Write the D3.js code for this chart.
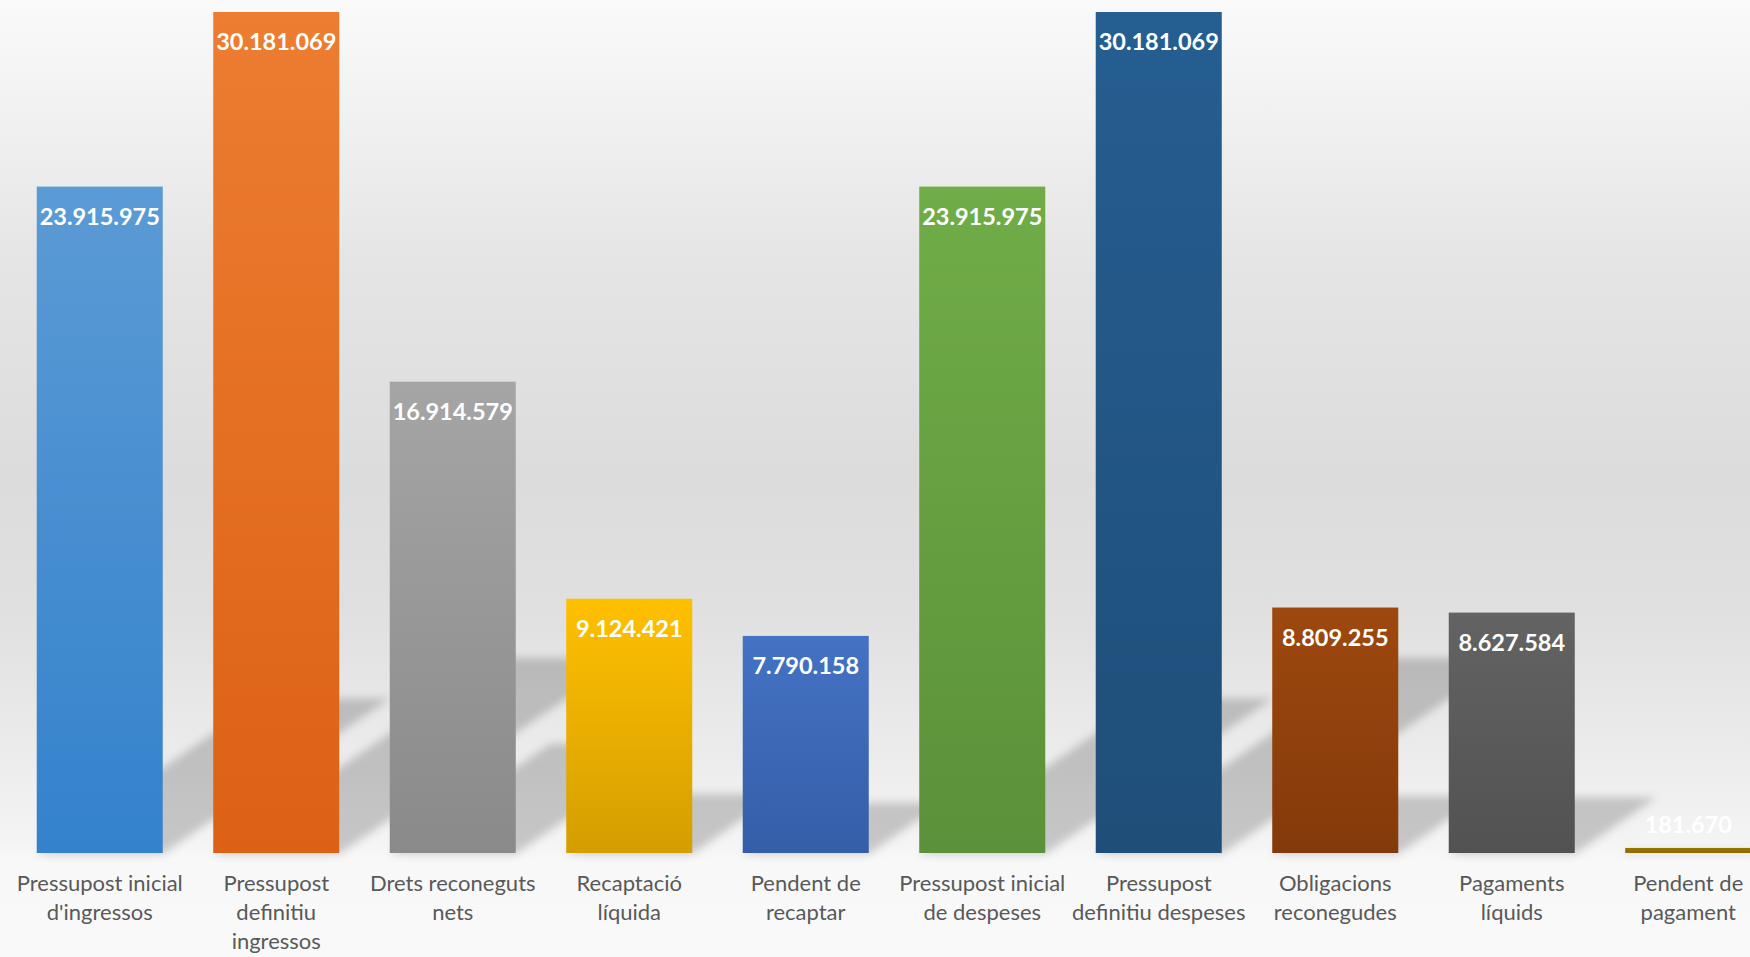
<!DOCTYPE html>
<html>
<head>
<meta charset="utf-8">
<script src="https://cdn.jsdelivr.net/npm/d3@7"></script>
<style>
  html, body { margin: 0; padding: 0; overflow: hidden; background: #f8f8f8; }
  svg { display: block; }
</style>
</head>
<body>
<svg id="chart" width="1750" height="957"></svg>
<script>
// ---- data ----
const categories = [
  "Pressupost inicial d'ingressos",
  "Pressupost definitiu ingressos",
  "Drets reconeguts nets",
  "Recaptació líquida",
  "Pendent de recaptar",
  "Pressupost inicial de despeses",
  "Pressupost definitiu despeses",
  "Obligacions reconegudes",
  "Pagaments líquids",
  "Pendent de pagament"
];
const values = [23915975, 30181069, 16914579, 9124421, 7790158, 23915975, 30181069, 8809255, 8627584, 181670];
const tickLabelLines = [
  ["Pressupost inicial", "d'ingressos"],
  ["Pressupost", "definitiu", "ingressos"],
  ["Drets reconeguts", "nets"],
  ["Recaptació", "líquida"],
  ["Pendent de", "recaptar"],
  ["Pressupost inicial", "de despeses"],
  ["Pressupost", "definitiu despeses"],
  ["Obligacions", "reconegudes"],
  ["Pagaments", "líquids"],
  ["Pendent de", "pagament"]
];
const topColors    = ["#5B9BD5", "#ED7D31", "#A5A5A5", "#FFC000", "#4472C4", "#70AD47", "#255E91", "#9E480E", "#636363", "#997300"];
const bottomColors = ["#3482CC", "#DC6114", "#8A8A8A", "#D49E00", "#355EA8", "#5B913A", "#1F4E79", "#833A0A", "#525252", "#8F6B00"];

// ---- setup ----
const W = 1750, H = 957;
const svg = d3.select("#chart");
const defs = svg.append("defs");

// background gradient
const bg = defs.append("linearGradient").attr("id", "bg").attr("x1", 0).attr("y1", 0).attr("x2", 0).attr("y2", 1);
[[0, "#fafafa"], [0.12, "#f1f1f1"], [0.27, "#e5e5e5"], [0.5, "#dcdcdc"], [0.64, "#e0e0e0"], [0.78, "#ebebeb"], [0.88, "#f4f4f4"], [0.9, "#f8f8f8"], [1, "#f9f9f9"]]
  .forEach(([o, c]) => bg.append("stop").attr("offset", o).attr("stop-color", c));
svg.append("rect").attr("width", W).attr("height", H).attr("fill", "url(#bg)");

// blur filter for shadows
const f = defs.append("filter").attr("id", "blur").attr("x", "-20%").attr("y", "-20%").attr("width", "140%").attr("height", "140%");
f.append("feGaussianBlur").attr("stdDeviation", 4);

const baseY = 853;
const x = d3.scaleBand().domain(categories).range([11.5, 1776.5]).paddingInner(0.286).paddingOuter(0.143);
const y = d3.scaleLinear().domain([0, 30181069]).range([baseY, 12]);

const fmt = d3.formatLocale({ decimal: ",", thousands: ".", grouping: [3], currency: ["", "€"] }).format(",d");

const data = categories.map((c, i) => ({ c, v: values[i], i }));

// per-bar gradients
data.forEach(d => {
  const g = defs.append("linearGradient").attr("id", "g" + d.i).attr("x1", 0).attr("y1", 0).attr("x2", 0).attr("y2", 1);
  g.append("stop").attr("offset", 0).attr("stop-color", topColors[d.i]);
  g.append("stop").attr("offset", 1).attr("stop-color", bottomColors[d.i]);
});

// perspective shadows
const shScale = 0.232, shSlope = 0.68;
svg.append("g").attr("filter", "url(#blur)")
  .selectAll("path").data(data).join("path")
  .attr("d", d => {
    const h = (baseY - y(d.v)) * shScale;
    const off = h / shSlope;
    const x0 = x(d.c), x1 = x(d.c) + x.bandwidth();
    return `M${x0},${baseY + 1}L${x1},${baseY + 1}L${x1 + off},${baseY - h}L${x0 + off},${baseY - h}Z`;
  })
  .attr("fill", "#000")
  .attr("fill-opacity", 0.19);

// bars
svg.append("g").selectAll("rect").data(data).join("rect")
  .attr("x", d => x(d.c))
  .attr("y", d => y(d.v))
  .attr("width", x.bandwidth())
  .attr("height", d => baseY - y(d.v))
  .attr("fill", d => `url(#g${d.i})`);

// value labels
svg.append("g").selectAll("text").data(data).join("text")
  .attr("x", d => x(d.c) + x.bandwidth() / 2)
  .attr("y", d => Math.min(y(d.v) + 38, baseY - 20))
  .attr("text-anchor", "middle")
  .attr("font-family", "Lato, 'Open Sans', sans-serif")
  .attr("font-weight", 700)
  .attr("font-size", 23.5)
  .attr("fill", "#ffffff")
  .text(d => fmt(d.v));

// category axis labels
const lab = svg.append("g").selectAll("text").data(data).join("text")
  .attr("text-anchor", "middle")
  .attr("font-family", "Lato, 'Open Sans', sans-serif")
  .attr("font-size", 22)
  .attr("fill", "#595959");
lab.each(function(d) {
  const t = d3.select(this);
  tickLabelLines[d.i].forEach((line, k) => {
    t.append("tspan")
      .attr("x", x(d.c) + x.bandwidth() / 2)
      .attr("y", 891 + k * 28.8)
      .text(line);
  });
});
</script>
</body>
</html>
